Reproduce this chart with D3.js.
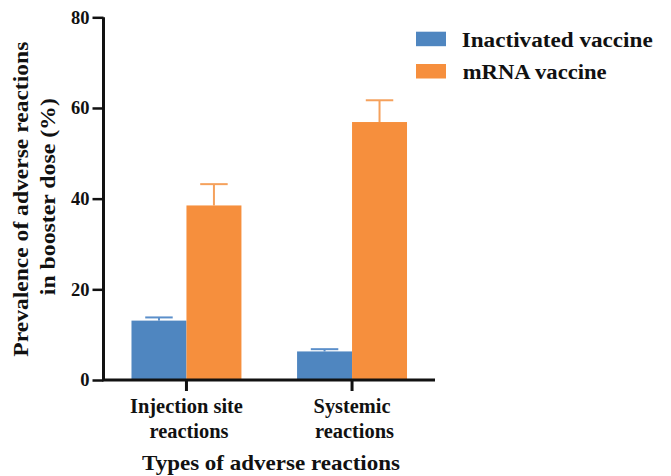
<!DOCTYPE html>
<html><head><meta charset="utf-8">
<script src="https://cdn.jsdelivr.net/npm/d3@7"></script>
<style>body{margin:0;background:#fff}svg{display:block}text{font-family:"Liberation Serif","Times New Roman",serif;font-weight:bold;fill:#111}</style>
</head><body><svg id="c" width="671" height="476"></svg>
<script>
const categories = [["Injection site","reactions"],["Systemic","reactions"]];
const categoryKeys = ["Injection site reactions","Systemic reactions"];
const seriesNames = ["Inactivated vaccine","mRNA vaccine"];
const inactivated = [13.1, 6.3];
const inactivatedErr = [0.7, 0.5];
const mrna = [38.5, 56.9];
const mrnaErr = [4.7, 4.8];
const yTicks = [0,20,40,60,80];
const xTitle = "Types of adverse reactions";
const yTitle = ["Prevalence of adverse reactions","in booster dose (%)"];
const colors = ["#4f86c0","#f68f3d"];
const errColors = ["#5b8fca","#f5a15c"];

const svg = d3.select("#c");
const x0 = 103.5, x1 = 435, yB = 380, yT = 17.3;
const y = d3.scaleLinear().domain([0,80]).range([yB,yT]);
const x = d3.scaleBand().domain(categoryKeys).range([x0,x1]).paddingInner(0.336).paddingOuter(0.169);
const xs = d3.scaleBand().domain(seriesNames).range([0,x.bandwidth()]);
const vals = [inactivated, mrna], errs = [inactivatedErr, mrnaErr];

seriesNames.forEach((s,si)=>{
  const g = svg.append("g");
  categoryKeys.forEach((c,ci)=>{
    const bx = x(c)+xs(s), w = xs.bandwidth(), v = vals[si][ci], e = errs[si][ci];
    const cx = bx + w/2;
    g.append("line").attr("x1",cx).attr("x2",cx).attr("y1",y(v)).attr("y2",y(v+e)).attr("stroke",errColors[si]).attr("stroke-width",2);
    g.append("line").attr("x1",cx-w/4).attr("x2",cx+w/4).attr("y1",y(v+e)).attr("y2",y(v+e)).attr("stroke",errColors[si]).attr("stroke-width",2);
    g.append("rect").attr("x",bx).attr("y",y(v)).attr("width",w).attr("height",y(0)-y(v)).attr("fill",colors[si]);
  });
});

// y axis
const ya = svg.append("g").attr("transform",`translate(${x0},0)`).call(d3.axisLeft(y).tickValues(yTicks).tickSize(11).tickPadding(3));
ya.select(".domain").attr("d",`M0,${yT}V${yB}`).attr("stroke","#111").attr("stroke-width",3);
ya.selectAll(".tick line").attr("stroke","#111").attr("stroke-width",2.5);
ya.selectAll(".tick text").style("font-size","18.5px").attr("fill","#111");

// x axis
const catLen = [[113,79],[77,79]];
const xa = svg.append("g").attr("transform",`translate(0,${yB})`).call(d3.axisBottom(x).tickSize(11).tickFormat(""));
xa.select(".domain").attr("d",`M${x0-1.5},0H${x1}`).attr("stroke","#111").attr("stroke-width",3);
xa.selectAll(".tick line").attr("stroke","#111").attr("stroke-width",3);
xa.selectAll(".tick").each(function(d,i){
  const g = d3.select(this);
  [0,1].forEach(k=>{
    g.append("text").attr("text-anchor","middle").style("font-size","20.5px")
      .attr("x",k===1?2.5:0).attr("y",[33,57.5][k])
      .attr("textLength",catLen[i][k]).attr("lengthAdjust","spacingAndGlyphs")
      .text(categories[i][k]);
  });
});

svg.append("text").attr("x",271).attr("y",470).attr("text-anchor","middle").style("font-size","21px")
  .attr("textLength",258).attr("lengthAdjust","spacingAndGlyphs").text(xTitle);
const yLen = [315,197], yC = [199.2,196.7], yX = [28.3,55];
yTitle.forEach((t,i)=>{
  svg.append("text").attr("transform",`translate(${yX[i]},${yC[i]}) rotate(-90)`).attr("text-anchor","middle")
    .style("font-size","20.5px").attr("textLength",yLen[i]).attr("lengthAdjust","spacingAndGlyphs").text(t);
});

// legend
const legLen = [191,144];
seriesNames.forEach((s,i)=>{
  const ly = [31.7,64][i];
  svg.append("rect").attr("x",416).attr("y",ly).attr("width",30).attr("height",14.5).attr("fill",colors[i]);
  svg.append("text").attr("x",[461.7,462.7][i]).attr("y",[46.7,79.3][i]).style("font-size","20.5px")
    .attr("textLength",legLen[i]).attr("lengthAdjust","spacingAndGlyphs").text(s);
});
</script></body></html>
